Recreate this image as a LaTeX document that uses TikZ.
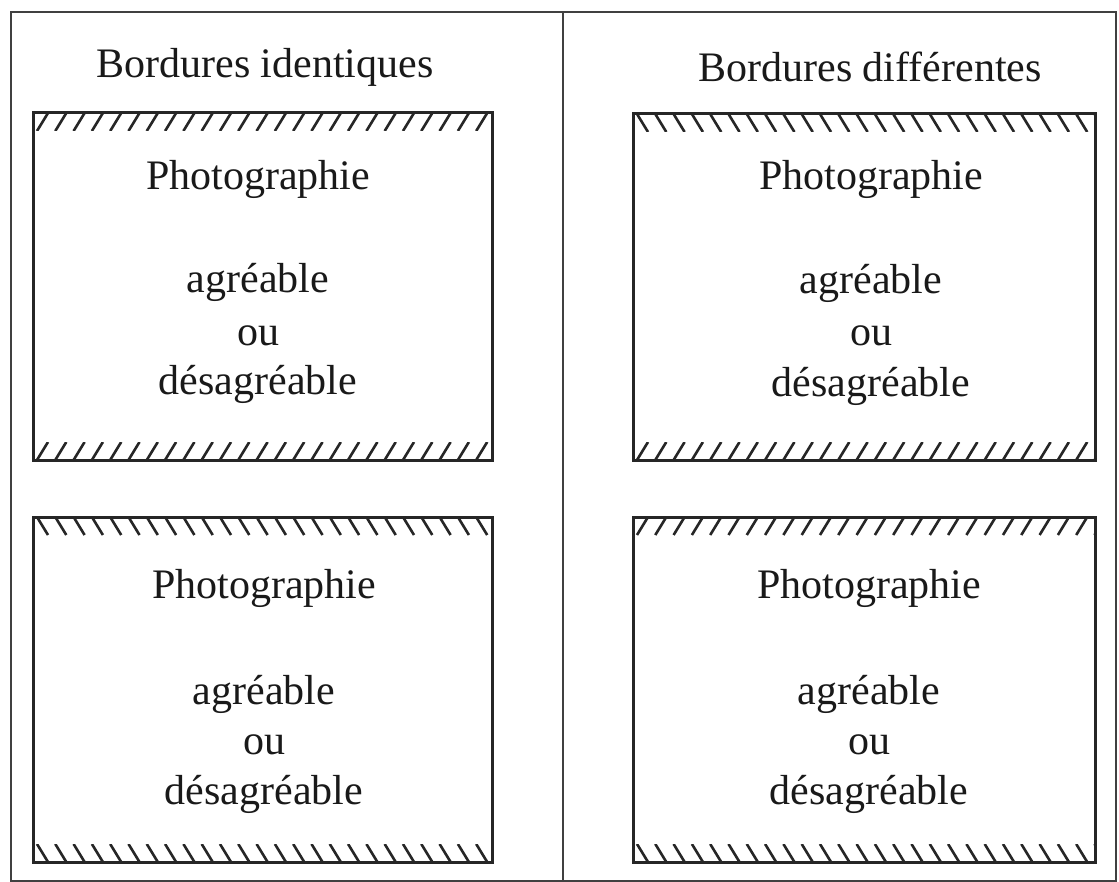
\documentclass[tikz,border=0pt]{standalone}
\usepackage{fontspec}
\setmainfont{Liberation Serif}
\begin{document}
\begin{tikzpicture}[x=1pt,y=-1pt]
\tikzset{
  frameline/.style={draw=black!75, line width=2.2pt},
  photobox/.style={draw=black!85, line width=3pt, rectangle, inner sep=0pt},
  hatchline/.style={draw=black!85, line width=2.6pt},
  txt/.style={font=\fontsize{42}{50}\selectfont, anchor=base, inner sep=0pt, text=black!90},
}
% hatched band inside a box: #1,#2 = x range, #3,#4 = y range, #5 = 1 for "/" and 0 for "\"
\newcommand\hatchband[5]{%
  \begin{scope}
    \clip (#1,#3) rectangle (#2,#4);
    \foreach \i in {-1,...,27}{%
      \pgfmathsetmacro\xx{#1+4+\i*18.3}
      \ifnum#5=1
        \draw[hatchline] (\xx,#4) -- ({\xx+11},#3);
      \else
        \draw[hatchline] (\xx,#3) -- ({\xx+11},#4);
      \fi
    }
  \end{scope}}

\useasboundingbox (0,0) rectangle (1119,882);
\fill[white] (0,0) rectangle (1119,882);

% outer frame and middle divider
\draw[frameline] (11,12) rectangle (1116,881);
\coordinate (divtop) at (563,12);
\coordinate (divbot) at (563,881);
\draw[frameline] (divtop) -- (divbot);

% headings
\node[txt] (headL) at (265,78) {Bordures identiques};
\node[txt] (headR) at (870,82) {Bordures différentes};

% the four frames
\node[photobox, minimum width=459, minimum height=347] (b1) at (262.5,286.5) {};
\node[photobox, minimum width=459, minimum height=345] (b2) at (262.5,689.5) {};
\node[photobox, minimum width=462, minimum height=346] (b3) at (864,287) {};
\node[photobox, minimum width=462, minimum height=345] (b4) at (864,689.5) {};

% hatched borders
\hatchband{33}{492}{113}{131}{1}
\hatchband{33}{492}{442}{460}{1}
\hatchband{33}{492}{517}{535}{0}
\hatchband{33}{492}{844}{862}{0}
\hatchband{633}{1095}{114}{132}{0}
\hatchband{633}{1095}{442}{460}{1}
\hatchband{633}{1095}{517}{535}{1}
\hatchband{633}{1095}{844}{862}{0}

% texts in the frames
\node[txt] (p1) at (258,190) {Photographie};
\node[txt] (a1) at (258,293) {agréable};
\node[txt] (o1) at (258,346) {ou};
\node[txt] (d1) at (258,395) {désagréable};

\node[txt] (p2) at (264,598) {Photographie};
\node[txt] (a2) at (264,704) {agréable};
\node[txt] (o2) at (264,754) {ou};
\node[txt] (d2) at (264,804) {désagréable};

\node[txt] (p3) at (871,190) {Photographie};
\node[txt] (a3) at (871,294) {agréable};
\node[txt] (o3) at (871,346) {ou};
\node[txt] (d3) at (871,397) {désagréable};

\node[txt] (p4) at (869,598) {Photographie};
\node[txt] (a4) at (869,704) {agréable};
\node[txt] (o4) at (869,754) {ou};
\node[txt] (d4) at (869,804) {désagréable};
\end{tikzpicture}
\end{document}
